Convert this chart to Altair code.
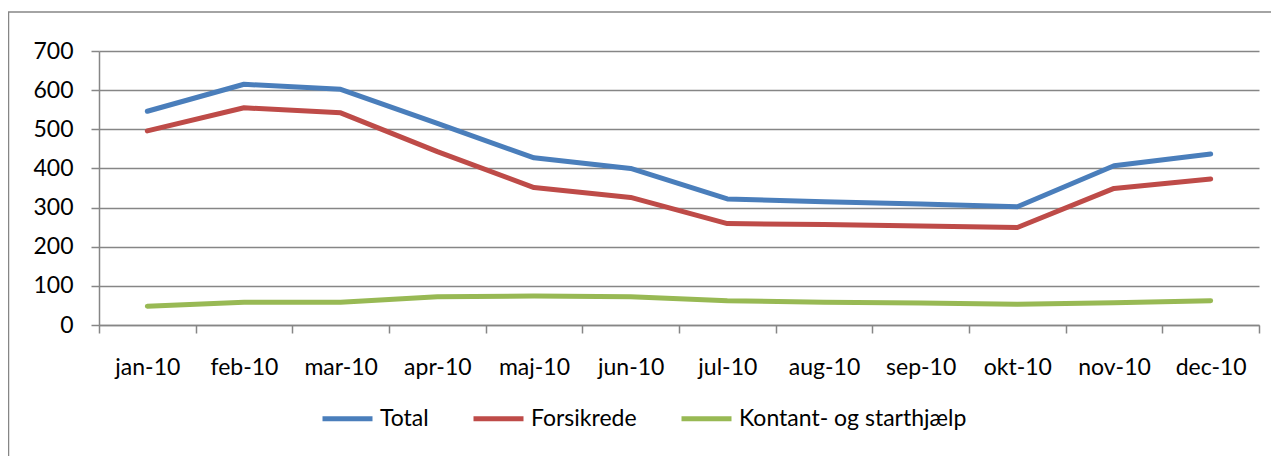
import altair as alt
import pandas as pd

months = ["jan-10", "feb-10", "mar-10", "apr-10", "maj-10", "jun-10",
          "jul-10", "aug-10", "sep-10", "okt-10", "nov-10", "dec-10"]
total = [546, 615, 602, 515, 427, 400, 322, 315, 309, 302, 407, 437]
forsikrede = [496, 555, 542, 443, 351, 326, 259, 257, 253, 249, 349, 373]
kontant = [48, 58, 58, 72, 74, 72, 62, 58, 56, 53, 57, 62]
series = ["Total", "Forsikrede", "Kontant- og starthjælp"]
colors = ["#4A7EBB", "#BE4B48", "#98B954"]

rows = []
for name, vals in zip(series, [total, forsikrede, kontant]):
    for m, v in zip(months, vals):
        rows.append({"month": m, "value": v, "series": name})
df = pd.DataFrame(rows)

FONT = "Lato"
FS = 23
W, H = 1160, 274

lines = alt.Chart(df).mark_line(strokeWidth=5, strokeCap="round", strokeJoin="round").encode(
    x=alt.X("month:O", sort=months,
            scale=alt.Scale(type="band", paddingInner=0, paddingOuter=0),
            axis=alt.Axis(title=None, labelAngle=0, grid=False, tickBand="extent",
                          domainColor="#868686", domainWidth=1.5,
                          tickColor="#868686", tickWidth=1.5, tickSize=8,
                          labelFont=FONT, labelFontSize=FS, labelColor="#000000",
                          labelPadding=23, labelBaseline="top")),
    y=alt.Y("value:Q", scale=alt.Scale(domain=[0, 700], nice=False),
            axis=alt.Axis(title=None, values=list(range(0, 701, 100)),
                          gridColor="#868686", gridWidth=1.5,
                          domainColor="#868686", domainWidth=1.5,
                          tickColor="#868686", tickWidth=1.5, tickSize=8,
                          labelFont=FONT, labelFontSize=FS, labelColor="#000000",
                          labelPadding=18)),
    color=alt.Color("series:N", sort=series,
                    scale=alt.Scale(domain=series, range=colors),
                    legend=alt.Legend(title=None, orient="none", direction="horizontal",
                                      legendX=221, legendY=340,
                                      symbolType="stroke", symbolSize=2500,
                                      symbolStrokeWidth=5, labelOffset=5,
                                      columnPadding=34, labelLimit=0,
                                      labelFont=FONT, labelFontSize=FS,
                                      labelColor="#000000")),
)

frame = alt.Chart(pd.DataFrame({"a": [0]})).mark_rect(
    fill=None, stroke="#868686", strokeWidth=1.5, clip=False
).encode(
    x=alt.value(-90.5), x2=alt.value(W + 60),
    y=alt.value(-39), y2=alt.value(H + 300),
)

chart = alt.layer(frame, lines).properties(
    width=W, height=H,
    autosize=alt.AutoSizeParams(type="none"),
    padding={"left": 91, "top": 43, "right": 12, "bottom": 131},
    background="white",
).configure_view(stroke=None)

chart.save("out.html", embed_options={"renderer": "svg", "actions": False})
